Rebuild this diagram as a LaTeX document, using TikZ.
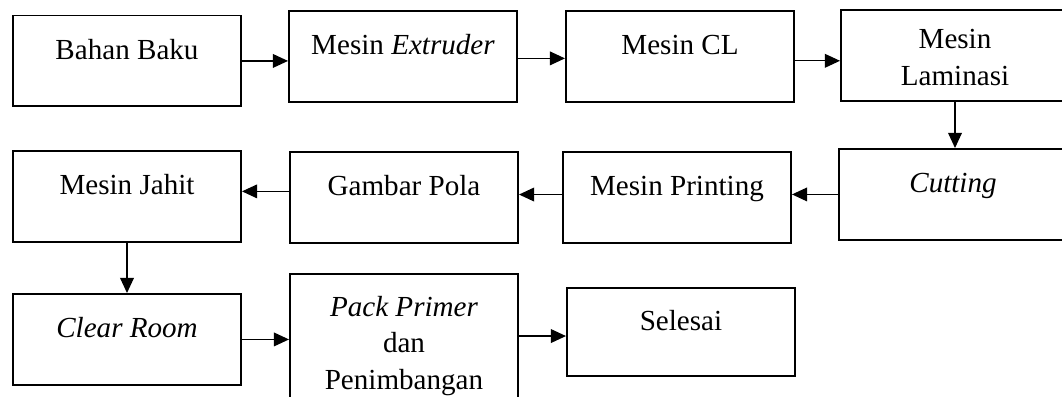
\documentclass[tikz,border=0pt]{standalone}
\usepackage{fontspec}
\setmainfont{Liberation Serif}
\usetikzlibrary{arrows.meta, positioning}

\begin{document}
\begin{tikzpicture}[
  x=0.0145cm, y=-0.0145cm,
  font=\fontsize{12}{15}\selectfont,
  box/.style={rectangle, draw, line width=0.8pt, anchor=north west, inner sep=0pt, minimum width=3.306cm, align=center, text height=0.638cm, text depth=0.68cm},
  box2/.style={box, text height=1.092cm, text depth=0.228cm},
  arr/.style={-{Triangle[length=0.22cm, width=0.2cm]}, line width=0.5pt}
]
\useasboundingbox (0,0) rectangle (1062,396);
\clip (0,0) rectangle (1062,396);

\node[box] (bahan) at (12,14.5) {Bahan Baku};
\node[box] (extruder) at (288,10) {Mesin \textit{Extruder}};
\node[box] (cl) at (565,10) {Mesin CL};
\node[box2] (laminasi) at (840,9) {Mesin\\Laminasi};
\node[box] (cutting) at (838,148) {\textit{Cutting}};
\node[box] (printing) at (562,151) {Mesin Printing};
\node[box] (gambar) at (289,151) {Gambar Pola};
\node[box] (jahit) at (12,150) {Mesin Jahit};
\node[box] (clear) at (12,293) {\textit{Clear Room}};
\node[box2, text height=1.67cm, text depth=0.5cm] (pack) at (289,273) {\textit{Pack Primer}\\dan\\Penimbangan};
\node[box, text height=0.618cm, text depth=0.663cm] (selesai) at (566,287) {Selesai};

% Koneksi
\draw[arr] (bahan.east) -- (bahan.east -| extruder.west);
\draw[arr] ([yshift=-0.8pt]extruder.east) -- ([yshift=-0.8pt]extruder.east -| cl.west);
\draw[arr] ([yshift=-1.8pt]cl.east) -- ([yshift=-1.8pt]cl.east -| laminasi.west);
\draw[arr] (laminasi.south) -- (laminasi.south |- cutting.north);
\draw[arr] (cutting.west) -- (cutting.west -| printing.east);
\draw[arr] ([yshift=1.2pt]printing.west) -- ([yshift=1.2pt]printing.west -| gambar.east);
\draw[arr] ([yshift=2.5pt]gambar.west) -- ([yshift=2.5pt]gambar.west -| jahit.east);
\draw[arr] (jahit.south) -- (jahit.south |- clear.north);
\draw[arr] (clear.east) -- (clear.east -| pack.west);
\draw[arr] ([yshift=-1.6pt]selesai.west -| pack.east) -- ([yshift=-1.6pt]selesai.west);

\end{tikzpicture}
\end{document}
